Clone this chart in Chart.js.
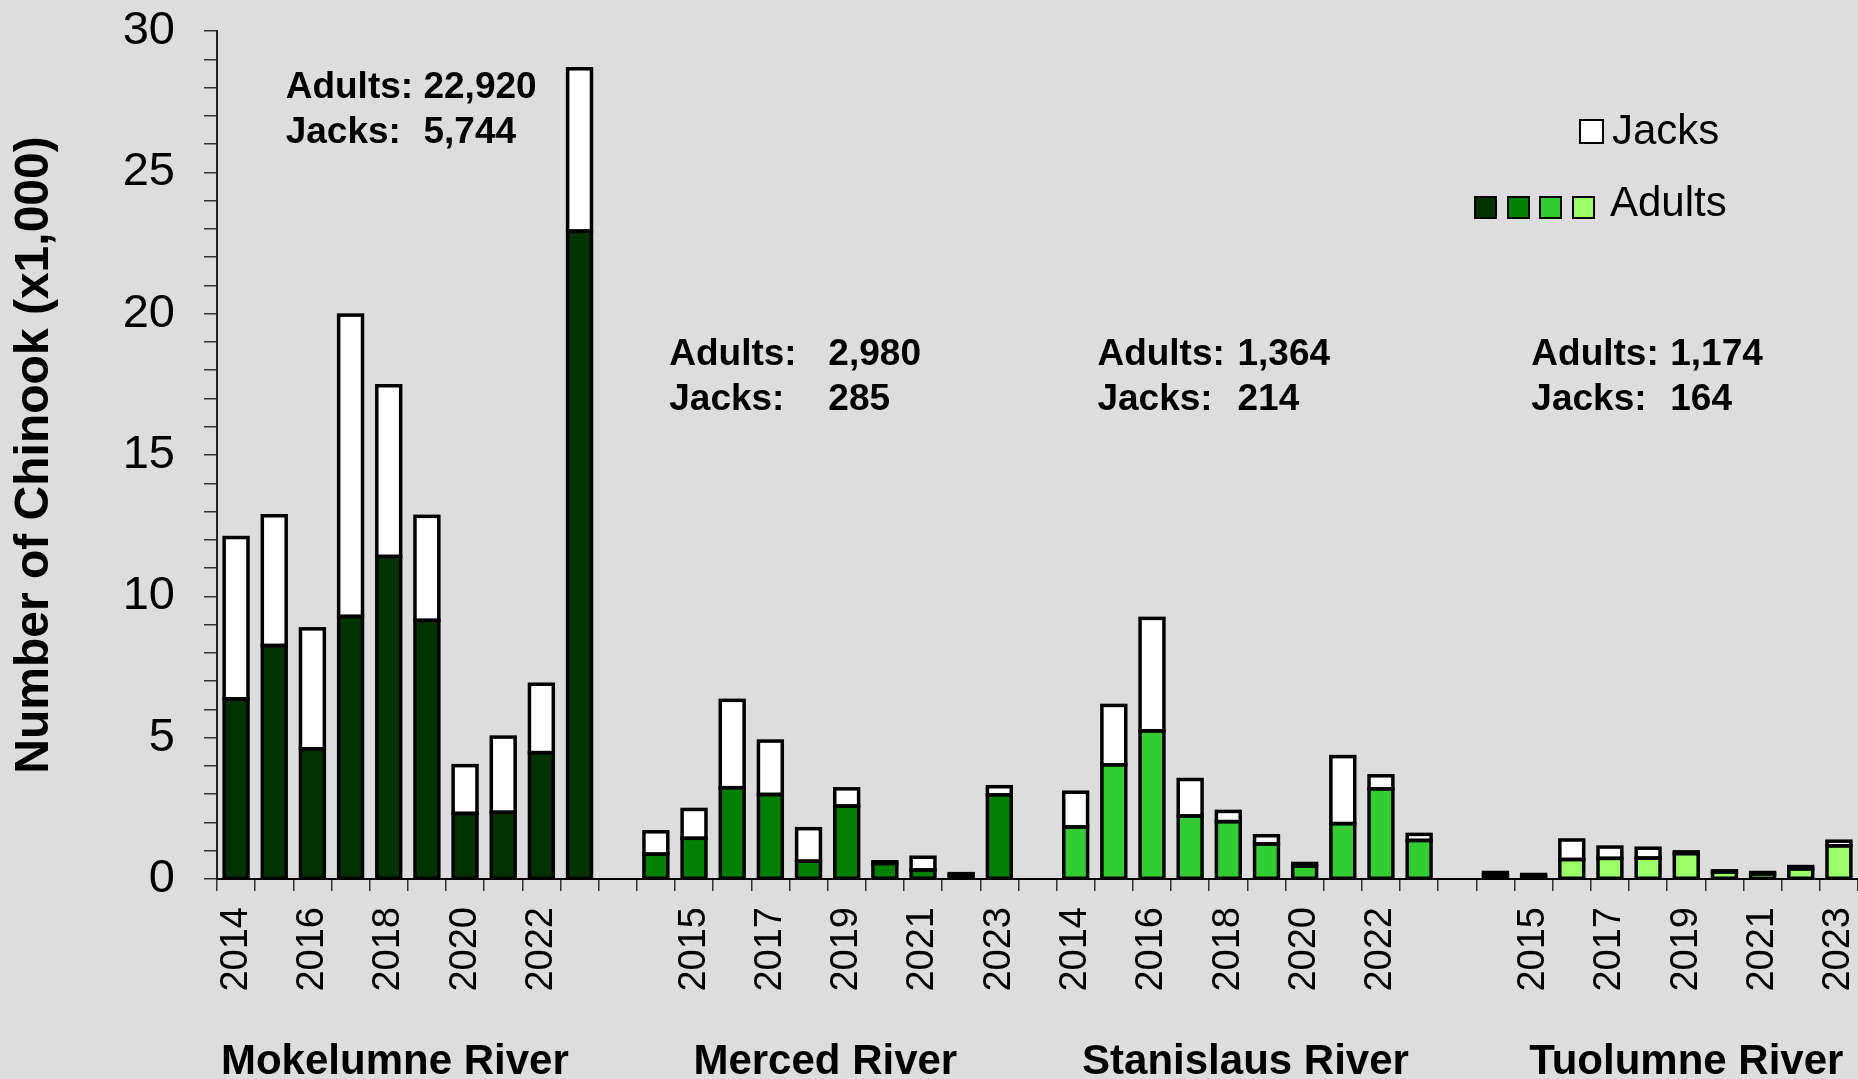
<!DOCTYPE html>
<html>
<head>
    <meta charset="utf-8">
    <title>Chinook Escapement by River</title>
    <script src="https://cdn.jsdelivr.net/npm/chart.js"></script>
    <style>
        html, body {
            margin: 0;
            padding: 0;
            background-color: #dddddd;
        }
        .chart-container {
            position: relative;
            width: 1858px;
            height: 1079px;
        }
    </style>
</head>
<body>
    <div class="chart-container">
        <canvas id="chinookChart"></canvas>
    </div>

    <script>
        // Values in thousands of fish
        const years = ['2014', '2015', '2016', '2017', '2018', '2019', '2020', '2021', '2022', '2023'];
        const rivers = ['Mokelumne River', 'Merced River', 'Stanislaus River', 'Tuolumne River'];
        const adultColors = ['#003300', '#008000', '#33cc33', '#99ff66'];

        const mokelumneAdults = [6.37, 8.26, 4.60, 9.29, 11.41, 9.15, 2.32, 2.36, 4.47, 22.92];
        const mokelumneJacks = [5.71, 4.59, 4.25, 10.66, 6.04, 3.68, 1.69, 2.66, 2.42, 5.744];
        const mercedAdults = [0.88, 1.44, 3.23, 2.99, 0.63, 2.58, 0.55, 0.32, 0.12, 2.98];
        const mercedJacks = [0.79, 1.02, 3.09, 1.89, 1.15, 0.61, 0.06, 0.45, 0.07, 0.285];
        const stanislausAdults = [1.84, 4.04, 5.24, 2.23, 2.03, 1.24, 0.46, 1.96, 3.19, 1.364];
        const stanislausJacks = [1.23, 2.10, 3.98, 1.29, 0.36, 0.29, 0.09, 2.37, 0.46, 0.214];
        const tuolumneAdults = [0.15, 0.10, 0.69, 0.73, 0.74, 0.90, 0.25, 0.18, 0.36, 1.174];
        const tuolumneJacks = [0.08, 0.06, 0.69, 0.40, 0.35, 0.06, 0.04, 0.05, 0.08, 0.164];

        // 2023 counts written above each river
        const summaryAdults = ['22,920', '2,980', '1,364', '1,174'];
        const summaryJacks = ['5,744', '285', '214', '164'];

        const riverAdults = [mokelumneAdults, mercedAdults, stanislausAdults, tuolumneAdults];
        const riverJacks = [mokelumneJacks, mercedJacks, stanislausJacks, tuolumneJacks];

        // Flatten the rivers into one category axis, with an empty slot between rivers
        const labels = [];
        const adultData = [];
        const jackData = [];
        const adultFill = [];
        rivers.forEach((river, r) => {
            if (r > 0) {
                labels.push('');
                adultData.push(null);
                jackData.push(null);
                adultFill.push('transparent');
            }
            years.forEach((year, i) => {
                labels.push(year);
                adultData.push(riverAdults[r][i]);
                jackData.push(riverJacks[r][i]);
                adultFill.push(adultColors[r]);
            });
        });

        Chart.defaults.font.family = "'Liberation Sans', Arial, sans-serif";
        Chart.defaults.color = '#000';

        // Text block positions in category units (x) and axis units (y)
        const notePos = [
            { x: 1.80, num: 5.41, y1: 27.63, y2: 26.05 },
            { x: 11.85, num: 16.02, y1: 18.17, y2: 16.58 },
            { x: 23.07, num: 26.74, y1: 18.17, y2: 16.58 },
            { x: 34.44, num: 38.08, y1: 18.17, y2: 16.58 }
        ];
        const riverLabelX = [4.66, 15.94, 26.95, 38.5];

        // Excel-style outlines: stroke centred on each bar edge, so even tiny bars show as black
        const outlinePlugin = {
            id: 'outline',
            afterDatasetsDraw(chart) {
                const ctx = chart.ctx;
                ctx.save();
                ctx.strokeStyle = '#000';
                ctx.lineWidth = 3.5;
                ctx.lineJoin = 'miter';
                chart.data.datasets.forEach((ds, d) => {
                    chart.getDatasetMeta(d).data.forEach((bar, i) => {
                        if (ds.data[i] === null) return;
                        const p = bar.getProps(['x', 'y', 'base', 'width'], true);
                        const top = Math.min(p.y, p.base);
                        ctx.strokeRect(p.x - p.width / 2, top, p.width, Math.abs(p.base - p.y));
                    });
                });
                ctx.restore();
            }
        };

        const extrasPlugin = {
            id: 'extras',
            afterDraw(chart) {
                const ctx = chart.ctx;
                const area = chart.chartArea;
                const yScale = chart.scales.y;
                const catW = area.width / labels.length;
                const catX = u => area.left + u * catW;

                ctx.save();
                ctx.fillStyle = '#000';
                ctx.textBaseline = 'alphabetic';

                // 2023 totals per river
                ctx.font = "bold 37px 'Liberation Sans', Arial, sans-serif";
                ctx.textAlign = 'left';
                notePos.forEach((p, r) => {
                    const y1 = yScale.getPixelForValue(p.y1);
                    const y2 = yScale.getPixelForValue(p.y2);
                    ctx.fillText('Adults:', catX(p.x), y1);
                    ctx.fillText(summaryAdults[r], catX(p.num), y1);
                    ctx.fillText('Jacks:', catX(p.x), y2);
                    ctx.fillText(summaryJacks[r], catX(p.num), y2);
                });

                // river names under the year labels
                ctx.font = "bold 42px 'Liberation Sans', Arial, sans-serif";
                ctx.textAlign = 'center';
                rivers.forEach((river, r) => {
                    ctx.fillText(river, catX(riverLabelX[r]), 1074);
                });

                // legend: one white box for Jacks, four green boxes for Adults
                ctx.lineWidth = 2;
                ctx.strokeStyle = '#000';
                ctx.fillStyle = '#fff';
                ctx.fillRect(1580, 120, 23, 23);
                ctx.strokeRect(1580, 120, 23, 23);
                [1475, 1508, 1540, 1573].forEach((x, i) => {
                    ctx.fillStyle = adultColors[i];
                    ctx.fillRect(x, 197, 21, 21);
                    ctx.strokeRect(x, 197, 21, 21);
                });
                ctx.fillStyle = '#000';
                ctx.font = "42px 'Liberation Sans', Arial, sans-serif";
                ctx.textAlign = 'left';
                ctx.fillText('Jacks', 1612, 144);
                ctx.fillText('Adults', 1610, 216);
                ctx.restore();
            }
        };

        new Chart(document.getElementById('chinookChart'), {
            type: 'bar',
            data: {
                labels: labels,
                datasets: [{
                    label: 'Adults',
                    data: adultData,
                    backgroundColor: adultFill,
                    borderWidth: 0
                }, {
                    label: 'Jacks',
                    data: jackData,
                    backgroundColor: '#ffffff',
                    borderWidth: 0
                }]
            },
            options: {
                responsive: true,
                maintainAspectRatio: false,
                animation: false,
                layout: {
                    padding: { top: 31, right: 0, bottom: 0, left: 0 }
                },
                datasets: {
                    bar: {
                        categoryPercentage: 1.0,
                        barPercentage: 0.625
                    }
                },
                plugins: {
                    legend: { display: false },
                    tooltip: { enabled: false }
                },
                scales: {
                    x: {
                        stacked: true,
                        afterFit: function(scale) {
                            scale.height = 200;
                            scale.paddingLeft = 0;
                            scale.paddingRight = 0;
                        },
                        border: { display: true, color: '#000', width: 2 },
                        grid: {
                            offset: true,
                            drawOnChartArea: false,
                            drawTicks: true,
                            tickLength: 12,
                            tickColor: '#333',
                            lineWidth: 1.5
                        },
                        ticks: {
                            autoSkip: false,
                            maxRotation: 90,
                            minRotation: 90,
                            padding: 16,
                            font: { size: 38 },
                            callback: function(value, index) {
                                // every second slot carries a year
                                return index % 2 === 0 ? labels[index] : '';
                            }
                        }
                    },
                    y: {
                        stacked: true,
                        min: 0,
                        max: 30,
                        afterFit: function(scale) {
                            scale.width = 217;
                            scale.paddingTop = 0;
                            scale.paddingBottom = 0;
                        },
                        border: { display: true, color: '#222', width: 2 },
                        grid: {
                            drawOnChartArea: false,
                            drawTicks: true,
                            tickLength: 13,
                            tickColor: '#333',
                            lineWidth: 1.5
                        },
                        ticks: {
                            stepSize: 1,
                            maxTicksLimit: 40,
                            autoSkip: false,
                            padding: 29,
                            font: { size: 47 },
                            callback: function(value) {
                                return value % 5 === 0 ? value : '';
                            }
                        },
                        title: {
                            display: true,
                            text: 'Number of Chinook (x1,000)',
                            font: { size: 48, weight: 'bold' },
                            padding: { top: 6, bottom: 0 }
                        }
                    }
                }
            },
            plugins: [outlinePlugin, extrasPlugin]
        });
    </script>
</body>
</html>
